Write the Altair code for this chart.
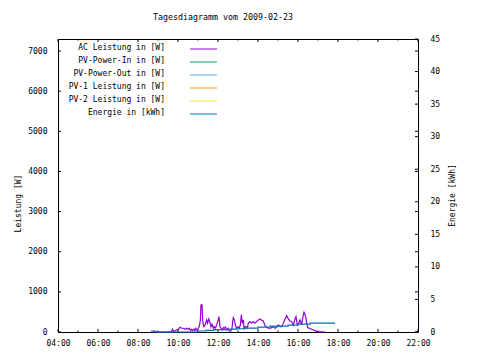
import altair as alt
import pandas as pd

# ---------------- data ----------------
ac_time = ["08:39", "08:51", "08:57", "09:39", "09:44", "09:46", "09:51", "09:56", "10:01", "10:06",
           "10:11", "10:16", "10:21", "10:26", "10:31", "10:34", "10:38", "10:41", "10:44", "10:48",
           "10:51", "10:54", "10:58", "11:01", "11:04", "11:07", "11:09", "11:12", "11:14", "11:16",
           "11:18", "11:21", "11:24", "11:26", "11:29", "11:32", "11:36", "11:39", "11:42", "11:46",
           "11:49", "11:52", "11:56", "11:59", "12:03", "12:06", "12:09", "12:12", "12:16", "12:19",
           "12:22", "12:26", "12:30", "12:33", "12:36", "12:39", "12:42", "12:44", "12:46", "12:49",
           "12:52", "12:56", "13:00", "13:04", "13:07", "13:10", "13:13", "13:16", "13:18", "13:21",
           "13:24", "13:28", "13:31", "13:36", "13:41", "13:46", "13:51", "13:56", "14:01", "14:06",
           "14:11", "14:16", "14:21", "14:26", "14:31", "14:36", "14:41", "14:46", "14:51", "14:56",
           "15:01", "15:06", "15:11", "15:16", "15:21", "15:26", "15:31", "15:36", "15:41", "15:46",
           "15:51", "15:54", "15:58", "16:02", "16:06", "16:11", "16:14", "16:18", "16:21", "16:24",
           "16:26", "16:29", "16:34", "16:41", "16:46", "16:51", "16:56", "17:01", "17:16", "17:21"]
ac_watt = [25, 25, 0, 0, 68, 10, 30, 50, 68, 118,
           93, 93, 68, 93, 68, 93, 33, 68, 33, 75,
           33, 93, 33, 93, 133, 300, 675, 675, 300, 175,
           133, 175, 243, 300, 218, 325, 243, 133, 193, 93,
           133, 93, 175, 258, 383, 133, 93, 50, 108, 93,
           125, 50, 93, 33, 15, 33, 93, 258, 358, 300,
           175, 93, 133, 93, 175, 425, 218, 300, 93, 133,
           133, 93, 218, 258, 218, 258, 218, 258, 300, 325,
           293, 275, 158, 118, 93, 93, 108, 133, 93, 118,
           175, 133, 133, 218, 318, 408, 325, 275, 258, 175,
           325, 383, 175, 218, 300, 175, 343, 493, 443, 343,
           218, 108, 93, 68, 50, 33, 15, 5, 5, 0]

energy_time = ["08:41", "11:00", "11:24", "11:48", "12:30", "12:57", "13:21",
               "14:00", "14:36", "15:30", "16:00", "16:36", "17:51"]
energy_kwh = [0.0, 0.15, 0.25, 0.35, 0.43, 0.5, 0.6, 0.75, 0.9, 1.07, 1.22, 1.35, 1.35]

series_names = ["AC Leistung in [W]", "PV-Power-In in [W]", "PV-Power-Out in [W]",
                "PV-1 Leistung in [W]", "PV-2 Leistung in [W]", "Energie in [kWh]"]
series_colors = ["#9400d3", "#009e73", "#56b4e9", "#e69f00", "#f0e442", "#0072b2"]

x_major = [4, 6, 8, 10, 12, 14, 16, 18, 20, 22]
x_minor = [5, 7, 9, 11, 13, 15, 17, 19, 21]
y_ticks = [0, 1000, 2000, 3000, 4000, 5000, 6000, 7000]
y2_ticks = [0, 5, 10, 15, 20, 25, 30, 35, 40, 45]

title_text = "Tagesdiagramm vom 2009-02-23"
y_title = "Leistung [W]"
y2_title = "Energie [kWh]"


def to_hours(s):
    hh, mm = s.split(":")
    return int(hh) + int(mm) / 60.0


ac_df = pd.DataFrame({"h": [to_hours(t) for t in ac_time], "w": ac_watt})
en_df = pd.DataFrame({"h": [to_hours(t) for t in energy_time], "k": energy_kwh})

# ---------------- layout ----------------
W, H = 360, 293
FONT = "DejaVu Sans Mono"
FS = 8

x_scale = alt.Scale(domain=[4, 22], nice=False, zero=False)
x_axis = alt.Axis(values=x_major, labelExpr="(datum.value < 10 ? '0' : '') + datum.value + ':00'",
                  grid=False, ticks=False, tickSize=0, domain=False, labelPadding=7,
                  labelFlush=False, labelOverlap=False, labelBound=False,
                  labelFont=FONT, labelFontSize=FS, labelColor="black", title=None)
yl_scale = alt.Scale(domain=[0, 7300], nice=False, zero=True)
yl_axis = alt.Axis(values=y_ticks, format="d", grid=False, ticks=False, tickSize=0, domain=False,
                   labelPadding=11, labelFont=FONT, labelFontSize=FS, labelColor="black",
                   labelFlush=False, labelOverlap=False, labelBound=False,
                   title=y_title, titleFont=FONT, titleFontSize=FS, titleFontWeight="normal",
                   titleColor="black", titleAngle=-90, titleX=-40, titleY=164,
                   titleAlign="center", titleBaseline="middle")
yr_scale = alt.Scale(domain=[0, 45], nice=False, zero=True)
yr_axis = alt.Axis(values=y2_ticks, format="d", orient="right", grid=False, ticks=False, tickSize=0,
                   domain=False, labelPadding=12, labelFont=FONT, labelFontSize=FS,
                   labelColor="black", labelAlign="left",
                   labelFlush=False, labelOverlap=False, labelBound=False,
                   title=y2_title, titleFont=FONT, titleFontSize=FS, titleFontWeight="normal",
                   titleColor="black", titleAngle=-90, titleX=34, titleY=156,
                   titleAlign="center", titleBaseline="middle")


def X(field):
    return alt.X(field, scale=x_scale, axis=x_axis)


ac_line = alt.Chart(ac_df).mark_line(color=series_colors[0], strokeWidth=1.2).encode(
    x=X("h:Q"),
    y=alt.Y("w:Q", scale=yl_scale, axis=yl_axis),
)

xmaj_df = pd.DataFrame({"h": x_major})
xmin_df = pd.DataFrame({"h": x_minor})
xt_bot_major = alt.Chart(xmaj_df).mark_rule(color="black", strokeWidth=1).encode(
    x=X("h:Q"), y=alt.value(H), y2=alt.value(H - 3))
xt_top_major = alt.Chart(xmaj_df).mark_rule(color="black", strokeWidth=1).encode(
    x=X("h:Q"), y=alt.value(0), y2=alt.value(3))
xt_bot_minor = alt.Chart(xmin_df).mark_rule(color="black", strokeWidth=1).encode(
    x=X("h:Q"), y=alt.value(H), y2=alt.value(H - 1.5))
xt_top_minor = alt.Chart(xmin_df).mark_rule(color="black", strokeWidth=1).encode(
    x=X("h:Q"), y=alt.value(0), y2=alt.value(1.5))

yt_df = pd.DataFrame({"v": y_ticks})
yt_left = alt.Chart(yt_df).mark_rule(color="black", strokeWidth=1).encode(
    y=alt.Y("v:Q", scale=yl_scale, axis=yl_axis), x=alt.value(0), x2=alt.value(3))
yt_right = alt.Chart(yt_df).mark_rule(color="black", strokeWidth=1).encode(
    y=alt.Y("v:Q", scale=yl_scale, axis=yl_axis), x=alt.value(W), x2=alt.value(W - 3))

legend_layers = []
for i, (name, col) in enumerate(zip(series_names, series_colors)):
    ly = 10 + 13 * i
    ldf = pd.DataFrame({"label": [name]})
    legend_layers.append(
        alt.Chart(ldf).mark_text(align="right", baseline="middle", font=FONT, fontSize=FS,
                                 color="black").encode(
            text="label:N", x=alt.value(107), y=alt.value(ly - 1.5)))
    legend_layers.append(
        alt.Chart(ldf).mark_rule(color=col, strokeWidth=1).encode(
            x=alt.value(132), x2=alt.value(159), y=alt.value(ly)))

left_layer = alt.layer(ac_line, yt_left, yt_right, xt_bot_major, xt_top_major,
                       xt_bot_minor, xt_top_minor, *legend_layers)

en_line = alt.Chart(en_df).mark_line(color=series_colors[5], strokeWidth=1.2,
                                     interpolate="step-after").encode(
    x=X("h:Q"),
    y=alt.Y("k:Q", scale=yr_scale, axis=yr_axis),
)
y2t_df = pd.DataFrame({"v": y2_ticks})
y2t_right = alt.Chart(y2t_df).mark_rule(color="black", strokeWidth=1).encode(
    y=alt.Y("v:Q", scale=yr_scale, axis=yr_axis), x=alt.value(W), x2=alt.value(W - 3))

right_layer = alt.layer(en_line, y2t_right)

chart = alt.layer(left_layer, right_layer).resolve_scale(y="independent").properties(
    width=W, height=H,
    autosize=alt.AutoSizeParams(type="none"),
    padding={"left": 50, "top": 31, "right": 46, "bottom": 20},
    title=alt.TitleParams(text=title_text, font=FONT, fontSize=8.3, fontWeight="normal",
                          color="black", anchor="middle", dx=-15, offset=14),
    background="white",
).configure_view(stroke="black", strokeWidth=1)

chart.save("out.html", embed_options={"renderer": "svg", "actions": False})
